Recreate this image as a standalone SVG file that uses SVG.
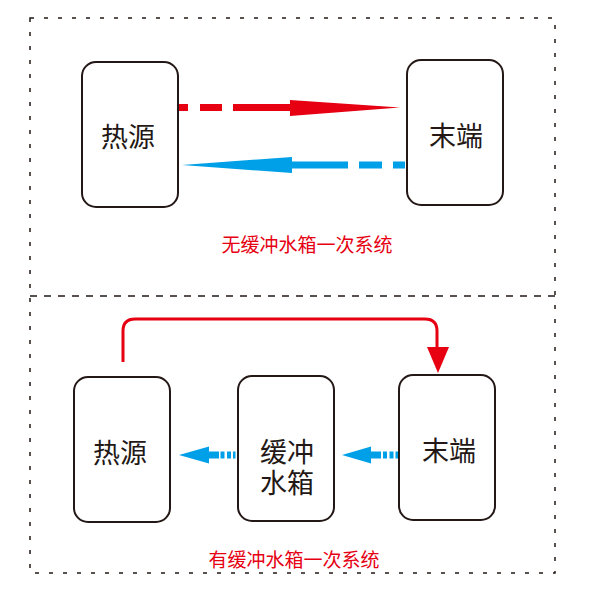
<svg xmlns="http://www.w3.org/2000/svg" width="591" height="595" viewBox="0 0 591 595">
<style>
.box{fill:#fff;stroke:#231815;stroke-width:2}
.t{font-family:"Noto Sans CJK SC","Noto Sans",sans-serif;font-size:27px;fill:#231815;text-anchor:middle;dominant-baseline:central}
.lbl{font-family:"Noto Sans CJK SC","Noto Sans",sans-serif;font-size:19px;fill:#e60012;text-anchor:middle;dominant-baseline:central}
.frame{fill:none;stroke:#231815;stroke-width:1.5;stroke-dasharray:4 10}
</style>
<rect class="frame" x="30" y="18" width="525" height="555"/>
<line x1="30" y1="296" x2="555" y2="296" stroke="#231815" stroke-width="1.5" stroke-dasharray="7 7"/>
<g id="connectors">
  <g fill="#e60012">
    <rect x="177" y="104" width="11" height="7"/>
    <rect x="200" y="104" width="22" height="7"/>
    <rect x="233" y="104" width="58" height="7"/>
    <polygon points="290,100 400,107.5 290,116"/>
  </g>
  <g fill="#00a0e9">
    <polygon points="182,165 292,157 292,173"/>
    <rect x="291" y="161.5" width="57" height="7"/>
    <rect x="359" y="161.5" width="23" height="7"/>
    <rect x="393" y="161.5" width="12" height="7"/>
  </g>
  <path d="M123,362 V331 Q123,319 135,319 H425 Q437,319 437,331 V350" fill="none" stroke="#e60012" stroke-width="3"/>
  <polygon points="427,347 449,347 438,373" fill="#e60012"/>
  <g fill="#00a0e9">
    <polygon points="179,455 209,446.5 209,463.5"/>
    <rect x="208" y="451.5" width="11" height="7"/>
    <rect x="220.5" y="451.5" width="4" height="7"/>
    <rect x="227" y="451.5" width="4" height="7"/>
    <rect x="233" y="451.5" width="2.5" height="7"/>
    <polygon points="342,455 371,446.5 371,463.5"/>
    <rect x="370" y="451.5" width="11" height="7"/>
    <rect x="383" y="451.5" width="4" height="7"/>
    <rect x="389.5" y="451.5" width="4" height="7"/>
    <rect x="395.5" y="451.5" width="2.5" height="7"/>
  </g>
</g>
<g id="top-source"><rect class="box" x="82" y="62" width="96" height="145" rx="14"/><text class="t" x="128" y="135">热源</text></g>
<g id="top-terminal"><rect class="box" x="407" y="60" width="96" height="145" rx="14"/><text class="t" x="456" y="134">末端</text></g>
<g id="top-label"><text class="lbl" x="307" y="243">无缓冲水箱一次系统</text></g>
<g id="bottom-source"><rect class="box" x="74" y="377" width="96" height="145" rx="14"/><text class="t" x="120" y="451">热源</text></g>
<g id="bottom-tank"><rect class="box" x="238" y="376" width="96" height="145" rx="14"/><text class="t" x="287" y="450"><tspan x="287" y="450">缓冲</tspan><tspan x="287" y="481">水箱</tspan></text></g>
<g id="bottom-terminal"><rect class="box" x="399" y="375" width="96" height="145" rx="14"/><text class="t" x="449" y="449">末端</text></g>
<g id="bottom-label"><text class="lbl" x="294" y="558">有缓冲水箱一次系统</text></g>
</svg>
